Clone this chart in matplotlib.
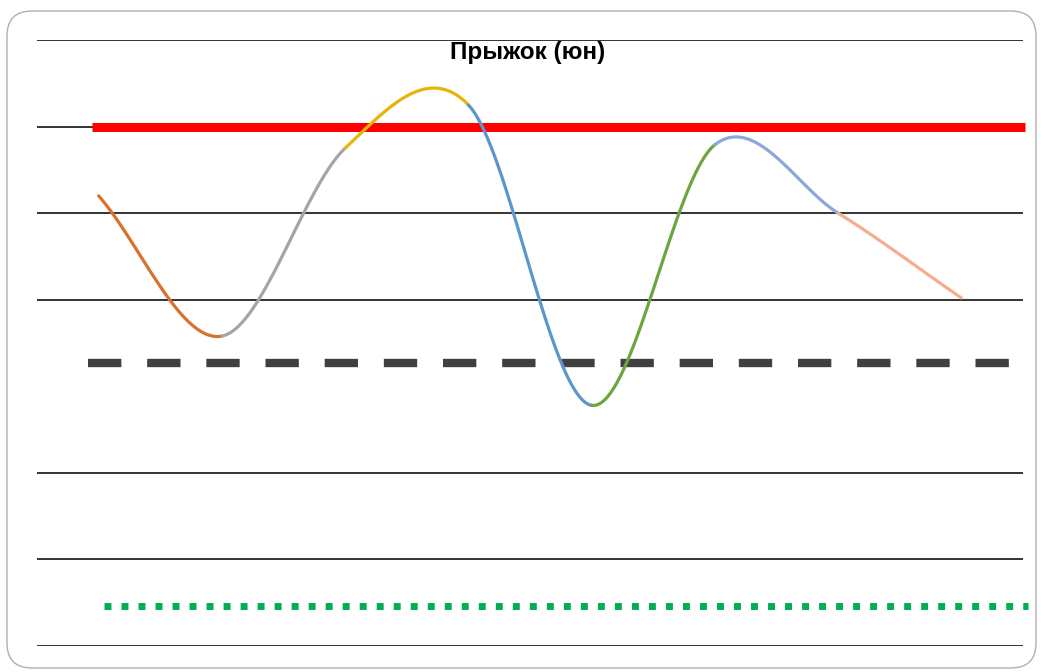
import numpy as np
import matplotlib
matplotlib.use("Agg")
import matplotlib.pyplot as plt
from matplotlib.patches import FancyBboxPatch
from matplotlib.transforms import IdentityTransform

# chart data (arbitrary units: gridline step = 1)
points = [0, 1, 2, 3, 4, 5, 6, 7]
values = [5.20, 3.58, 5.75, 6.25, 2.78, 5.79, 5.00, 4.02]
segment_colors = ["#D9712E", "#A5A5A5", "#E8B40A", "#5B96CC",
                  "#6DA541", "#8FA5DD", "#F4AE8E"]
gridlines = [0, 1, 2, 4, 5, 6, 7]
red_level = 6.0
dash_level = 3.27
dot_level = 0.46
title = "Прыжок (юн)"


def hermite(y0, y1, m0, m1, t):
    h00 = 2 * t**3 - 3 * t**2 + 1
    h10 = t**3 - 2 * t**2 + t
    h01 = -2 * t**3 + 3 * t**2
    h11 = t**3 - t**2
    return h00 * y0 + h10 * m0 + h01 * y1 + h11 * m1


# Excel-style smoothing (Catmull-Rom tangents, one-sided at the ends)
n = len(values)
tang = []
for i in range(n):
    if i == 0:
        tang.append(values[1] - values[0])
    elif i == n - 1:
        tang.append(values[-1] - values[-2])
    else:
        tang.append((values[i + 1] - values[i - 1]) / 2)

fig = plt.figure(figsize=(10.44, 6.72), dpi=100)
ax = fig.add_axes([37 / 1044, 26 / 672, 986 / 1044, 606 / 672])
ax.set_xlim(-0.5, 7.5)
ax.set_ylim(0, 7)
ax.axis("off")

for g in gridlines:
    ax.axhline(g, color="#111111", lw=1.2, zorder=1)

ax.plot([-0.054, 7.52], [red_level] * 2, color="#FF0000", lw=6.5,
        solid_capstyle="butt", clip_on=False, zorder=3)
ax.plot([-0.086, 7.435], [dash_level] * 2, color="#404040", lw=6,
        dashes=(4, 3.1), dash_capstyle="butt", clip_on=False, zorder=2)
ax.plot([0.044, 7.54], [dot_level] * 2, color="#00B050", lw=5,
        dashes=(1, 1.45), dash_capstyle="butt", clip_on=False, zorder=2)

t = np.linspace(0, 1, 60)
for i in range(n - 1):
    xs = points[i] + t * (points[i + 1] - points[i])
    ys = hermite(values[i], values[i + 1], tang[i], tang[i + 1], t)
    ax.plot(xs, ys, color=segment_colors[i], lw=2.3,
            solid_capstyle="round", zorder=4)

fig.text(528 / 1044, 1 - 52 / 672, title, ha="center", va="center",
         fontsize=17.5, fontweight="bold", family="Liberation Sans")

frame = FancyBboxPatch((7, 4), 1029, 657, boxstyle="round,pad=0,rounding_size=25",
                       transform=IdentityTransform(), facecolor="none",
                       edgecolor="#B0B0B0", lw=1.0)
fig.patches.append(frame)

fig.savefig("out.png", dpi=100)
